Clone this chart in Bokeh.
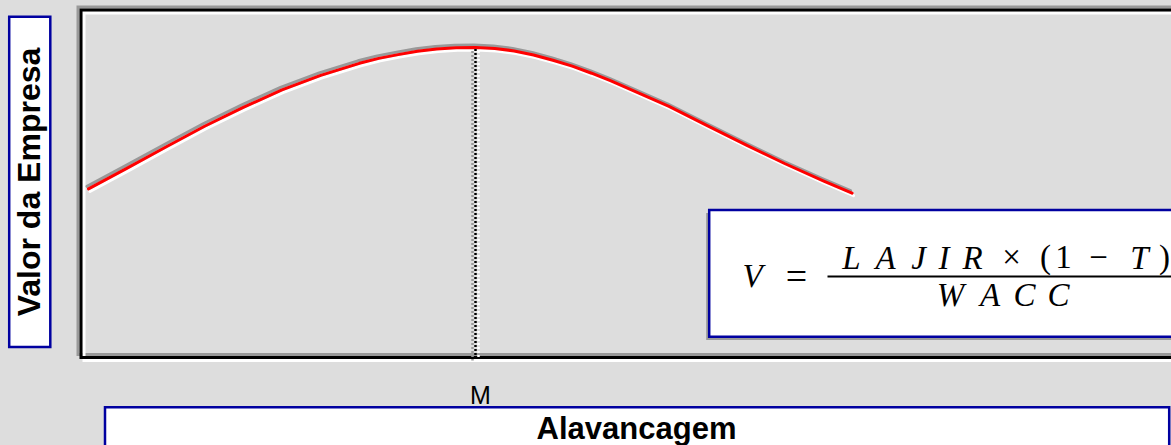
import math
from bokeh.plotting import figure
from bokeh.models import Range1d
from bokeh.core.properties import value
from bokeh.embed import file_html
from bokeh.resources import INLINE

# ---------------- data ----------------
leverage = [0, 1, 2, 3, 4, 5, 6, 7, 7.5, 8, 8.5, 9, 9.5, 10, 10.5, 11, 11.5, 12, 12.5,
            13, 13.5, 14, 15, 16, 17, 18, 19, 19.73]
firm_value = [54.4, 61.1, 67.9, 74.6, 80.7, 86.3, 91.0, 94.9, 96.5, 97.7, 98.8, 99.5, 99.9,
              100.0, 99.7, 98.9, 97.6, 95.9, 94.0, 91.7, 89.2, 86.5, 81.0, 74.7, 68.5,
              62.5, 56.9, 53.0]
optimal_leverage = 10
tick_labels = ["M"]
x_title = "Alavancagem"
y_title = "Valor da Empresa"
formula_lhs = ["V"]
formula_eq = ["="]
num_italic = ["L", "A", "J", "I", "R", "T"]
num_upright = ["\u00d7", "(", "1", "\u2212", ")"]
denominator = ["W", "A", "C", "C"]

# ---------------- layout (page pixels) ----------------
W, H = 1171, 445
X0, SX = 88.0, 38.7      # page x of leverage 0, px per unit
Y0, SY = 357.0, 3.1      # page y of value 0, px per unit
BG = "#DDDDDD"
SHADOW = "#999999"
BLUE = "#0000A0"
FAR_RIGHT = 1260


def dx(px):
    return (px - X0) / SX


def dy(py):
    return (Y0 - py) / SY


p = figure(width=W, height=H,
           x_range=Range1d(dx(0), dx(W)),
           y_range=Range1d(dy(H), dy(0)),
           output_backend="svg", toolbar_location=None,
           x_axis_location=None, y_axis_location=None,
           min_border=0, title=None)
p.grid.visible = False
p.outline_line_color = None
p.background_fill_color = BG
p.border_fill_color = BG

# engraved plot frame: gray (up-left), white (down-right), black (centre)
for off, col in ((-3, SHADOW), (3, "white"), (0, "black")):
    p.quad(left=[dx(80.5 + off)], right=[dx(FAR_RIGHT)],
           top=[dy(9.5 + off)], bottom=[dy(357 + off)],
           fill_alpha=0, line_color=col, line_width=3, line_join="miter")

# curve with embossed shadows
for ox, oy, col in ((-1.5, -2.5, SHADOW), (1.5, 2.5, "white"), (0, 0, "red")):
    p.line([x + ox / SX for x in leverage], [v - oy / SY for v in firm_value],
           line_color=col, line_width=3, line_join="round", line_cap="round")

# dotted line at optimum
peak_val = firm_value[leverage.index(optimal_leverage)]
for ox, col, off in ((-3, SHADOW, 2), (3, "white", 2), (0, "black", 0)):
    p.segment(x0=[optimal_leverage + ox / SX], y0=[peak_val - 1.5 / SY],
              x1=[optimal_leverage + ox / SX], y1=[dy(360)],
              line_color=col, line_width=2.5, line_dash="2 2", line_dash_offset=off)

MID = "middle"

# tick label
p.text(x=[optimal_leverage + 5 / SX], y=[dy(394.5)], text=tick_labels,
       text_align="center", text_baseline=MID,
       text_font=value("Liberation Sans"), text_font_size=value("25px"),
       text_color="black")

# y title box
p.quad(left=[dx(8.7)], right=[dx(49.8)], top=[dy(16.2)], bottom=[dy(346.5)],
       fill_color="white", line_color=BLUE, line_width=2.5, line_join="miter")
p.text(x=[dx(28.5)], y=[dy(181.5)], text=[y_title], angle=math.pi / 2,
       text_align="center", text_baseline=MID,
       text_font=value("Liberation Sans"), text_font_style="bold",
       text_font_size=value("32px"), text_color="black")

# x title box
p.quad(left=[dx(104.5)], right=[dx(1168.7)], top=[dy(406.8)], bottom=[dy(480)],
       fill_color="white", line_color=BLUE, line_width=2.5, line_join="miter")
p.text(x=[dx(636)], y=[dy(428)], text=[x_title],
       text_align="center", text_baseline=MID,
       text_font=value("Liberation Sans"), text_font_style="bold",
       text_font_size=value("31px"), text_color="black")

# formula box with shadow
p.quad(left=[dx(705.7)], right=[dx(FAR_RIGHT)], top=[dy(212.5)], bottom=[dy(339.5)],
       fill_color=SHADOW, line_color=None)
p.quad(left=[dx(708.7)], right=[dx(FAR_RIGHT)], top=[dy(209.5)], bottom=[dy(336.2)],
       fill_color="white", line_color=BLUE, line_width=2.5, line_join="miter")

FS = value("33px")
serif = value("Liberation Serif")
# V =
p.text(x=[dx(752)], y=[dy(275.5)], text=formula_lhs, text_align="center",
       text_baseline=MID, text_font=serif, text_font_style="italic",
       text_font_size=FS, text_color="black")
p.text(x=[dx(796)], y=[dy(275)], text=formula_eq, text_align="center",
       text_baseline=MID, text_font=serif,
       text_font_size=value("38px"), text_color="black")
# fraction bar
p.segment(x0=[dx(827)], y0=[dy(276)], x1=[dx(FAR_RIGHT)], y1=[dy(276)],
          line_color="black", line_width=2)
# numerator
num_italic_x = [851, 885, 918, 943.5, 972, 1139]
p.text(x=[dx(v) for v in num_italic_x], y=[dy(257)] * len(num_italic), text=num_italic,
       text_align="center", text_baseline=MID, text_font=serif,
       text_font_style="italic", text_font_size=FS, text_color="black")
num_upright_x = [1011, 1045, 1063, 1098, 1164]
p.text(x=[dx(v) for v in num_upright_x], y=[dy(256)] * len(num_upright), text=num_upright,
       text_align="center", text_baseline=MID, text_font=serif,
       text_font_size=FS, text_color="black")
# denominator
den_x = [950, 989.5, 1024, 1058]
p.text(x=[dx(v) for v in den_x], y=[dy(294)] * len(denominator), text=denominator,
       text_align="center", text_baseline=MID, text_font=serif,
       text_font_style="italic", text_font_size=FS, text_color="black")

html = file_html(p, INLINE, title="Valor da Empresa")
html = html.replace("</head>", "<style>html,body{background:#DDDDDD;}</style></head>", 1)
open("out.html", "w").write(html)
